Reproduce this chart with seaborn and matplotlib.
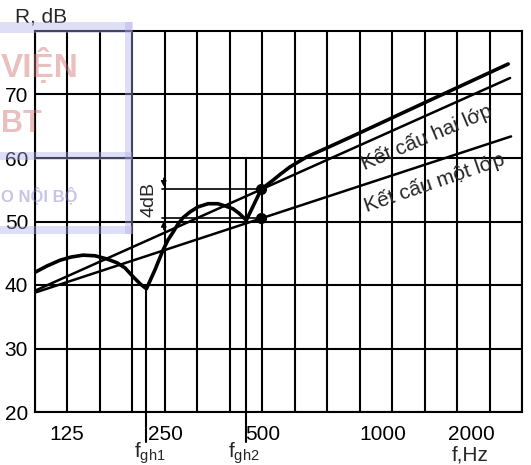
import matplotlib
matplotlib.use("Agg")
import matplotlib.pyplot as plt
from matplotlib.patches import Rectangle
from matplotlib.ticker import NullFormatter
from matplotlib.transforms import ScaledTranslation
import seaborn as sns

# --- data -------------------------------------------------------------
# single-layer construction (mass law line)
freq_one = [100, 2960]
r_one = [38.8, 63.4]

# double-layer construction (straight reference line)
freq_two = [100, 2940]
r_two = [39.1, 72.6]

# double-layer construction, real curve with resonance dips at f_gh1 and f_gh2
freq_res = [100, 108.9, 119.5, 129.2, 140.7, 153.3, 166.9, 179.2, 189.7, 201, 211.1, 221,
            234.9, 248.7, 257.7, 267, 276.7, 286.7, 301.3, 319, 342.5, 367.8, 389.3, 409.3, 427, 450,
            500, 522, 544, 571.7, 614, 693, 799, 1003, 1662, 2900]
r_res = [42.0, 43.0, 43.9, 44.4, 44.7, 44.6, 44.1, 43.5, 42.7, 41.3, 40.2, 39.4,
         42.4, 45.5, 47.1, 48.3, 49.6, 50.6, 51.5, 52.3, 52.8, 52.8, 52.4, 52.0, 51.3, 50.2,
         55.05, 55.8, 56.5, 57.4, 58.6, 60.2, 61.6, 63.9, 69.1, 74.8]

f_gh1 = 221
f_gh2 = 450
f_dot = 500
r_dot_two = 55.05
r_dot_one = 50.5

x_ticks = [125, 250, 500, 1000, 2000]
x_labels = ["125", "250", "500", "1000", "2000"]
y_ticks = [20, 30, 40, 50, 60, 70]
grid_freqs = [100 * 2 ** (k / 3) for k in range(16)]

# --- style ------------------------------------------------------------
sns.set_style("white")
plt.rcParams["font.family"] = ["Liberation Sans Narrow", "Liberation Sans", "DejaVu Sans"]
plt.rcParams["mathtext.fontset"] = "custom"
plt.rcParams["mathtext.rm"] = "Liberation Sans"

W, H = 531, 465
fig = plt.figure(figsize=(W / 100, H / 100), dpi=100)
ax = fig.add_axes([35 / W, 1 - 412 / H, (522 - 35) / W, (412 - 31) / H])

ax.set_xscale("log", base=2)
ax.set_xlim(100, 3200)
ax.set_ylim(20, 80)

ax.set_xticks(grid_freqs, minor=True)
ax.xaxis.set_minor_formatter(NullFormatter())
ax.set_xticks(x_ticks)
ax.set_xticklabels(x_labels)
ax.set_yticks(y_ticks)
ax.set_yticklabels([str(v) for v in y_ticks])

ax.grid(False)
ax.grid(True, which="minor", axis="x", color="black", lw=1.5)
ax.grid(True, which="major", axis="y", color="black", lw=1.5)
ax.set_axisbelow(True)
for s in ax.spines.values():
    s.set_color("black")
    s.set_linewidth(1.5)

ax.tick_params(axis="both", which="both", length=0, labelsize=15, colors="black")
ax.tick_params(axis="x", pad=9)
ax.tick_params(axis="y", pad=5)
# nudge the 1000 / 2000 labels to where they sit on the printed scale
shifts = [0, 2, 2, 24, 15]
for lab, dx in zip(ax.get_xticklabels(), shifts):
    lab.set_transform(lab.get_transform() + ScaledTranslation(dx / 100, 0, fig.dpi_scale_trans))

# --- lines ------------------------------------------------------------
sns.lineplot(x=freq_one, y=r_one, ax=ax, color="black", lw=1.8, estimator=None, sort=False)
sns.lineplot(x=freq_two, y=r_two, ax=ax, color="black", lw=1.8, estimator=None, sort=False)
sns.lineplot(x=freq_res, y=r_res, ax=ax, color="black", lw=2.6, estimator=None, sort=False)

# critical frequency markers extending below the axis
ax.plot([f_gh1, f_gh1], [39.4, 15.3], color="black", lw=1.5, clip_on=False)
ax.plot([f_gh2, f_gh2], [60, 15.3], color="black", lw=1.5, clip_on=False)

# 4 dB dimension
ax.plot([247, f_dot], [r_dot_two, r_dot_two], color="black", lw=1.2)
ax.plot([247, f_dot], [r_dot_one, r_dot_one], color="black", lw=1.2)
ax.annotate("", xy=(250, r_dot_two), xytext=(250, r_dot_two + 2.2),
            arrowprops=dict(arrowstyle="-|>", color="black", lw=1, mutation_scale=8))
ax.annotate("", xy=(250, r_dot_one), xytext=(250, r_dot_one - 2.2),
            arrowprops=dict(arrowstyle="-|>", color="black", lw=1, mutation_scale=8))
ax.text(225, 53.4, "4dB", rotation=90, ha="center", va="center", fontsize=14)
ax.plot([f_dot, f_dot], [r_dot_two, r_dot_one], "o", ms=7, color="black")

ax.text(1620, 63.3, "Kết cấu hai lớp", rotation=23, ha="center", va="center", fontsize=15)
ax.text(1720, 56.2, "Kết cấu một lớp", rotation=19, ha="center", va="center", fontsize=15)

# --- axis titles ------------------------------------------------------
fig.text(41 / W, 1 - 17 / H, "R, dB", ha="center", va="center", fontsize=15)
fig.text(470 / W, 1 - 455 / H, "f,Hz", ha="center", va="center", fontsize=15)
fig.text(150 / W, 1 - 453 / H, r"$\mathregular{f_{gh1}}$", ha="center", va="center", fontsize=15)
fig.text(244 / W, 1 - 453 / H, r"$\mathregular{f_{gh2}}$", ha="center", va="center", fontsize=15)

# --- library stamp ------------------------------------------------------
stamp = (0.68, 0.68, 0.92)
for (x0, y0, x1, y1) in [(0, 22, 132, 33), (125, 22, 133, 234), (0, 152, 132, 160), (0, 226, 132, 234)]:
    fig.add_artist(Rectangle((x0 / W, 1 - y1 / H), (x1 - x0) / W, (y1 - y0) / H,
                             transform=fig.transFigure, color=stamp, alpha=0.4, lw=0, zorder=5))
fig.text(1 / W, 1 - 66 / H, "VIỆN", ha="left", va="center", fontsize=24, fontweight="bold",
         color=(0.82, 0.45, 0.45), alpha=0.45, zorder=5)
fig.text(1 / W, 1 - 124 / H, "BT", ha="left", va="center", fontsize=22, fontweight="bold",
         color=(0.82, 0.45, 0.45), alpha=0.45, zorder=5)
fig.text(1 / W, 1 - 196 / H, "O NỘI BỘ", ha="left", va="center", fontsize=12, fontweight="bold",
         color=(0.5, 0.5, 0.82), alpha=0.45, zorder=5)

fig.savefig("out.png", dpi=100)
